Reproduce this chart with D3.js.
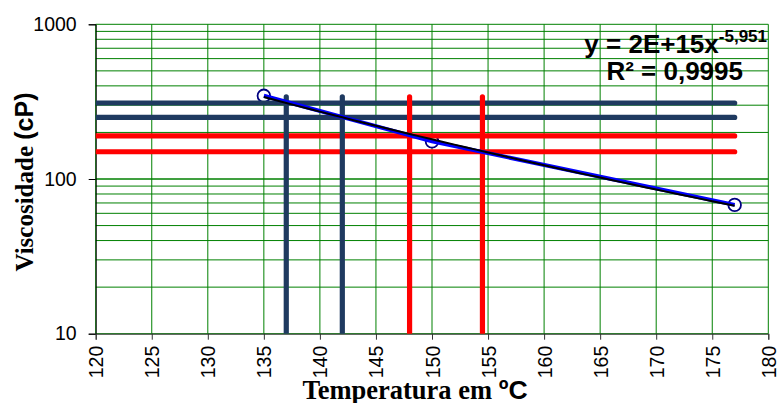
<!DOCTYPE html>
<html><head><meta charset="utf-8">
<script src="https://cdn.jsdelivr.net/npm/d3@7"></script>
<style>body{margin:0;background:#fff}svg{display:block}</style>
</head><body>
<svg id="chart" width="777" height="403"></svg>
<script>
// ---- data ----
const temperatures = [135, 150, 177];
const viscosities = [345, 175, 68];
const navyHLevels = [310, 250];
const redHLevels = [190, 150];
const navyVTemps = [137, 142];
const redVTemps = [148, 154.5];
const hLineSpan = [120, 177];
const vLineSpan = [10, 340];
const xTickValues = [120,125,130,135,140,145,150,155,160,165,170,175,180];
const yTickValues = [10, 100, 1000];
const equationMain = "y = 2E+15x";
const equationExp = "-5,951";
const rSquaredText = "R² = 0,9995";
const yTitleSerif = "Viscosidade ";
const yTitleSans = "(cP)";
const xTitleSerif = "Temperatura em ";
const xTitleSans = "ºC";

const W = 777, H = 403;
const m = {left: 95.7, right: 8.7, top: 24.3, bottom: 69.3};
const svg = d3.select("#chart");
const x = d3.scaleLinear().domain([120, 180]).range([m.left, W - m.right]);
const y = d3.scaleLog().domain([10, 1000]).range([H - m.bottom, m.top]);

svg.append("defs").append("clipPath").attr("id","plot")
  .append("rect").attr("x", m.left).attr("y", m.top)
  .attr("width", W - m.left - m.right).attr("height", H - m.top - m.bottom);

// grid
const minorY = [];
[10, 100].forEach(d => { for (let k = 1; k <= 10; k++) minorY.push(d * k); });
const grid = svg.append("g");
grid.selectAll("line.h").data(minorY).join("line")
  .attr("x1", m.left).attr("x2", W - m.right)
  .attr("y1", d => y(d)).attr("y2", d => y(d))
  .attr("stroke", "#008000").attr("stroke-width", 1);
grid.selectAll("line.v").data(xTickValues).join("line")
  .attr("y1", m.top).attr("y2", H - m.bottom)
  .attr("x1", d => x(d)).attr("x2", d => x(d))
  .attr("stroke", "#008000").attr("stroke-width", 1);

// axes
const yAxis = svg.append("g").attr("transform", `translate(${m.left},0)`)
  .call(d3.axisLeft(y).tickValues(yTickValues).tickFormat(d3.format("d")).tickSize(7).tickPadding(12));
yAxis.select(".domain").attr("stroke", "#000");
yAxis.selectAll(".tick line").attr("stroke", "#000");
yAxis.selectAll("text").attr("font-family", "Liberation Sans, Arial, sans-serif")
  .attr("font-size", 19.5).attr("fill", "#000");

const xAxis = svg.append("g").attr("transform", `translate(0,${H - m.bottom})`)
  .call(d3.axisBottom(x).tickValues(xTickValues).tickSize(6));
xAxis.select(".domain").attr("stroke", "#333");
xAxis.selectAll(".tick line").attr("stroke", "#333");
xAxis.selectAll("text")
  .attr("font-family", "Liberation Sans, Arial, sans-serif").attr("font-size", 19.5).attr("fill", "#000")
  .attr("text-anchor", "end").attr("transform", "rotate(-90)")
  .attr("x", -12).attr("y", 0).attr("dy", "0.36em");

// helper lines
const plot = svg.append("g").attr("clip-path", "url(#plot)");
const markers = plot.append("g");
markers.selectAll("circle").data(temperatures).join("circle")
  .attr("cx", d => x(d)).attr("cy", (d, i) => y(viscosities[i])).attr("r", 6.3)
  .attr("fill", "#fff").attr("stroke", "#000080").attr("stroke-width", 1.8);

function hLines(levels, color) {
  plot.append("g").selectAll("line").data(levels).join("line")
    .attr("x1", x(hLineSpan[0])).attr("x2", x(hLineSpan[1]))
    .attr("y1", d => y(d)).attr("y2", d => y(d))
    .attr("stroke", color).attr("stroke-width", 5.2).attr("stroke-linecap", "round");
}
function vLines(temps, color) {
  plot.append("g").selectAll("line").data(temps).join("line")
    .attr("x1", d => x(d)).attr("x2", d => x(d))
    .attr("y1", y(vLineSpan[0])).attr("y2", y(vLineSpan[1]))
    .attr("stroke", color).attr("stroke-width", 5.2).attr("stroke-linecap", "round");
}
hLines(navyHLevels, "#1f3a60");
hLines(redHLevels, "#ff0000");
vLines(navyVTemps, "#1f3a60");
vLines(redVTemps, "#ff0000");

// series line
const pts = temperatures.map((t, i) => [t, viscosities[i]]);
plot.append("path").datum(pts)
  .attr("d", d3.line().x(d => x(d[0])).y(d => y(d[1])))
  .attr("fill", "none").attr("stroke", "#0000ff").attr("stroke-width", 4);

// power trendline (least squares in log-log space)
const lx = pts.map(p => Math.log(p[0])), ly = pts.map(p => Math.log(p[1]));
const mx = d3.mean(lx), my = d3.mean(ly);
const b = d3.sum(lx.map((v, i) => (v - mx) * (ly[i] - my))) / d3.sum(lx.map(v => (v - mx) ** 2));
const a = Math.exp(my - b * mx);
const tr = d3.range(temperatures[0], temperatures[temperatures.length - 1] + 0.01, 1)
  .map(t => [t, a * Math.pow(t, b)]);
plot.append("path").datum(tr)
  .attr("d", d3.line().x(d => x(d[0])).y(d => y(d[1])))
  .attr("fill", "none").attr("stroke", "#000").attr("stroke-width", 2);

// equation
const eq = svg.append("text").attr("x", 767).attr("y", 53)
  .attr("text-anchor", "end").attr("font-family", "Liberation Sans, Arial, sans-serif")
  .attr("font-weight", "bold").attr("font-size", 26).attr("fill", "#000");
eq.append("tspan").text(equationMain);
eq.append("tspan").attr("font-size", 17).attr("dy", -11).text(equationExp);
svg.append("text").attr("x", 743).attr("y", 80)
  .attr("text-anchor", "end").attr("font-family", "Liberation Sans, Arial, sans-serif")
  .attr("font-weight", "bold").attr("font-size", 26).attr("fill", "#000").text(rSquaredText);

// axis titles
const yt = svg.append("text").attr("transform", "translate(33,182) rotate(-90)")
  .attr("text-anchor", "middle").attr("font-weight", "bold").attr("font-size", 25).attr("fill", "#000");
yt.append("tspan").attr("font-family", "Liberation Serif, Times New Roman, serif").text(yTitleSerif);
yt.append("tspan").attr("font-family", "Liberation Sans, Arial, sans-serif").text(yTitleSans);

const xt = svg.append("text").attr("x", 415).attr("y", 399)
  .attr("text-anchor", "middle").attr("font-weight", "bold").attr("font-size", 26.5).attr("fill", "#000");
xt.append("tspan").attr("font-family", "Liberation Serif, Times New Roman, serif").text(xTitleSerif);
xt.append("tspan").attr("font-family", "Liberation Sans, Arial, sans-serif").text(xTitleSans);
</script>
</body></html>
